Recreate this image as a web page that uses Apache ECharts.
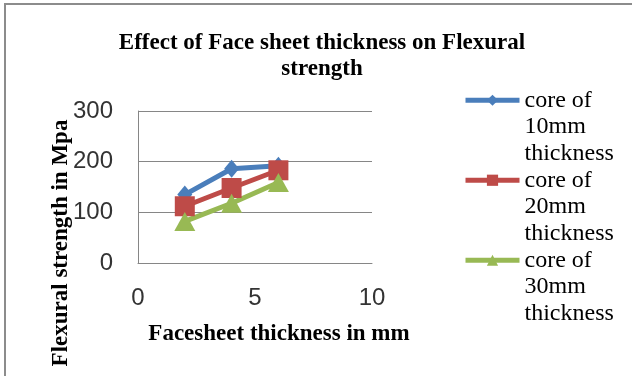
<!DOCTYPE html>
<html>
<head>
<meta charset="utf-8">
<script src="https://cdn.jsdelivr.net/npm/echarts@6/dist/echarts.min.js"></script>
<style>
html,body{margin:0;padding:0;background:#fff;}
#chart{width:632px;height:376px;}
</style>
</head>
<body>
<div id="chart"></div>
<script>
const xValues = [2, 4, 6];
const seriesNames = ['core of\n10mm\nthickness', 'core of\n20mm\nthickness', 'core of\n30mm\nthickness'];
const core10 = [135, 186, 192];
const core20 = [112, 148, 183];
const core30 = [82, 118, 159];
const xTicks = [0, 5, 10];
const yTicks = [0, 100, 200, 300];

const colors = ['#4A7EBB', '#BE4B48', '#98B954'];
const serif = '"Liberation Serif", "Times New Roman", serif';
const sans = '"Liberation Sans", Arial, sans-serif';

function pairs(vals) { return xValues.map((x, i) => [x, vals[i]]); }

const chart = echarts.init(document.getElementById('chart'), null, {renderer: 'canvas'});

// icon sits level with the first text line: two blank lines before the name
function legendFor(name, top) {
  return {
    data: [name],
    left: 463,
    top: top,
    padding: 0,
    orient: 'vertical',
    itemWidth: 54,
    itemHeight: 14,
    selectedMode: false,
    lineStyle: {width: 5},
    formatter: n => '\n\n' + n,
    textStyle: {fontFamily: serif, fontSize: 24, color: '#000', lineHeight: 26.5}
  };
}

const option = {
  backgroundColor: '#fff',
  animation: false,
  title: {
    text: 'Effect of Face sheet thickness on Flexural\nstrength',
    left: 317,
    textAlign: 'center',
    top: 25,
    textStyle: {fontFamily: serif, fontSize: 23, fontWeight: 'bold', color: '#000', lineHeight: 26}
  },
  legend: [
    legendFor(seriesNames[0], 34),
    legendFor(seriesNames[1], 114),
    legendFor(seriesNames[2], 194)
  ],
  grid: {left: 138, right: 260, top: 111, bottom: 113, containLabel: false},
  xAxis: {
    type: 'value',
    min: xTicks[0], max: xTicks[xTicks.length - 1], interval: 5,
    axisLine: {show: true, lineStyle: {color: '#868686', width: 1}},
    axisTick: {show: false},
    splitLine: {show: false},
    axisLabel: {fontFamily: sans, fontSize: 24, color: '#333', margin: 23},
    name: 'Facesheet thickness in mm',
    nameLocation: 'middle',
    nameGap: 60,
    nameMoveOverlap: false,
    nameTextStyle: {fontFamily: serif, fontSize: 23, fontWeight: 'bold', color: '#000', padding: [0, 0, 0, 48]}
  },
  yAxis: {
    type: 'value',
    min: yTicks[0], max: yTicks[yTicks.length - 1], interval: 100,
    axisLine: {show: true, lineStyle: {color: '#868686', width: 1}},
    axisTick: {show: false},
    splitLine: {show: true, lineStyle: {color: '#868686', width: 1}},
    axisLabel: {fontFamily: sans, fontSize: 24, color: '#333', margin: 25},
    name: 'Flexural strength in Mpa',
    nameLocation: 'middle',
    nameGap: 65,
    nameRotate: 90,
    nameMoveOverlap: false,
    nameTextStyle: {fontFamily: serif, fontSize: 23, fontWeight: 'bold', color: '#000', padding: [0, 112, 0, 0]}
  },
  graphic: [{
    type: 'rect',
    shape: {x: 5, y: 4, width: 700, height: 500},
    style: {fill: null, stroke: '#8c8c8c', lineWidth: 2},
    silent: true
  }],
  series: [
    {
      name: seriesNames[0], type: 'line', data: pairs(core10),
      symbol: 'diamond', symbolSize: [15, 18],
      lineStyle: {width: 5, color: colors[0]}, itemStyle: {color: colors[0]}
    },
    {
      name: seriesNames[1], type: 'line', data: pairs(core20),
      symbol: 'rect', symbolSize: 20,
      lineStyle: {width: 5, color: colors[1]}, itemStyle: {color: colors[1]}
    },
    {
      name: seriesNames[2], type: 'line', data: pairs(core30),
      symbol: 'triangle', symbolSize: [21, 19],
      lineStyle: {width: 5, color: colors[2]}, itemStyle: {color: colors[2]}
    }
  ]
};
chart.setOption(option);
</script>
</body>
</html>
